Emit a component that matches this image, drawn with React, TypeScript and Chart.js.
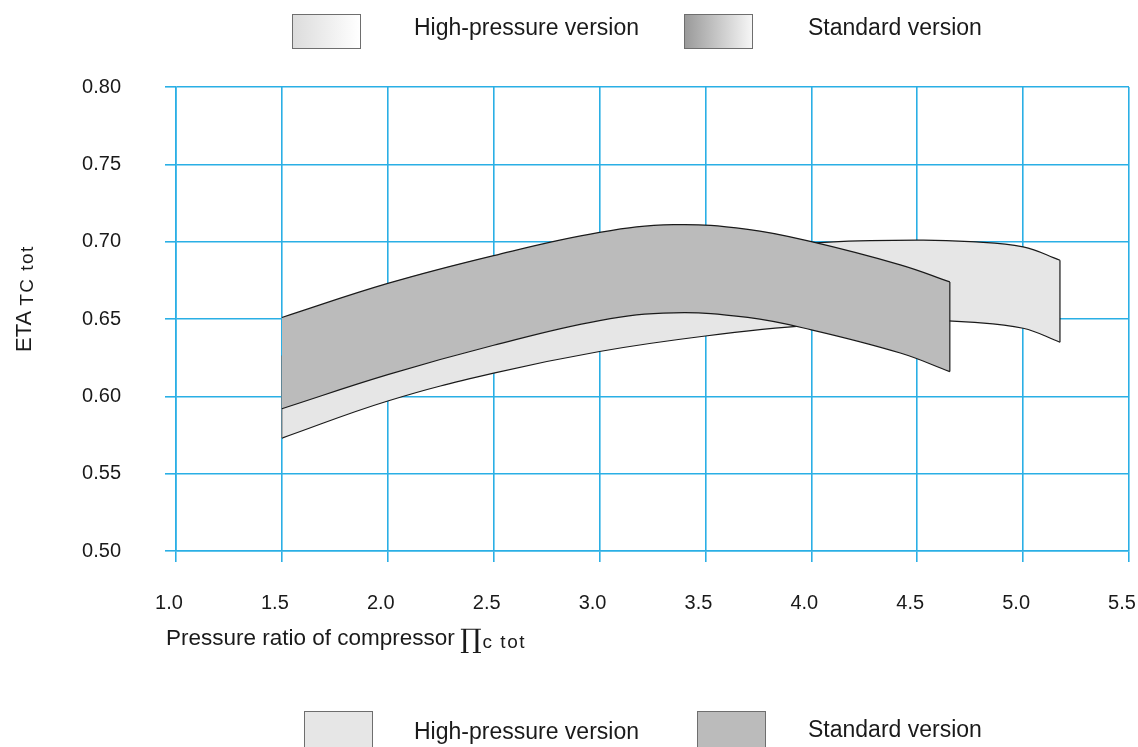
import React, { useEffect, useRef } from "react";
import { Chart, registerables } from "chart.js";

Chart.register(...registerables);

// ---- data ----
const xStd = [1.5, 2.0, 2.5, 3.0, 3.35, 3.7, 4.0, 4.42, 4.654];
const stdUpper = [0.651, 0.673, 0.691, 0.706, 0.711, 0.708, 0.7, 0.685, 0.674];
const stdLower = [0.592, 0.614, 0.633, 0.649, 0.654, 0.651, 0.643, 0.628, 0.616];

const xHp = [1.5, 2.0, 2.5, 3.0, 3.5, 4.0, 4.5, 4.75, 5.0, 5.174];
const hpUpper = [0.626, 0.646, 0.663, 0.678, 0.69, 0.699, 0.701, 0.7, 0.6966, 0.688];
const hpLower = [0.573, 0.597, 0.615, 0.629, 0.639, 0.646, 0.649, 0.648, 0.644, 0.635];

const xTicks = [1.0, 1.5, 2.0, 2.5, 3.0, 3.5, 4.0, 4.5, 5.0, 5.5];
const yTicks = [0.5, 0.55, 0.6, 0.65, 0.7, 0.75, 0.8];

const legendLabels = ["High-pressure version", "Standard version"];
const xTitle = "Pressure ratio of compressor";
const xTitleSymbol = "\u220F";
const xTitleSub = "c tot";
const yTitle = "ETA";
const yTitleSub = "TC tot";

const BLUE = "#2AAFE5";
const STD_FILL = "#bbbbbb";
const HP_FILL = "#e6e6e6";
const LINE = "#1a1a1a";
const TEXT = "#1a1a1a";
const FONT = "'Liberation Sans', Arial, sans-serif";

const pts = (xs: number[], ys: number[]) => xs.map((x, i) => ({ x, y: ys[i] }));
const edge = (xs: number[], up: number[], lo: number[], i: number) => [
  { x: xs[i], y: up[i] },
  { x: xs[i], y: lo[i] },
];

const titlesPlugin = {
  id: "axisTitles",
  afterDraw(chart: any) {
    const { ctx, chartArea } = chart;
    ctx.save();
    ctx.fillStyle = TEXT;
    ctx.textAlign = "left";
    ctx.textBaseline = "alphabetic";
    // x title
    const bx = chartArea.bottom + 94;
    let x = chartArea.left - 10;
    ctx.font = `22.5px ${FONT}`;
    ctx.fillText(xTitle, x, bx);
    x += ctx.measureText(xTitle + " ").width - 1;
    ctx.font = `27px 'DejaVu Serif', serif`;
    ctx.fillText(xTitleSymbol, x, bx + 3);
    x += ctx.measureText(xTitleSymbol).width + 1;
    ctx.font = `19px ${FONT}`;
    (ctx as any).letterSpacing = "1.5px";
    ctx.fillText(xTitleSub, x, bx + 3);
    (ctx as any).letterSpacing = "0px";
    // y title (rotated)
    ctx.translate(31, 352);
    ctx.rotate(-Math.PI / 2);
    ctx.font = `22px ${FONT}`;
    ctx.fillText(yTitle, 0, 0);
    const w = ctx.measureText(yTitle).width;
    ctx.font = `19px ${FONT}`;
    (ctx as any).letterSpacing = "1.5px";
    ctx.fillText(yTitleSub, w + 5, 2);
    ctx.restore();
  },
};

export default function App() {
  const ref = useRef<HTMLCanvasElement>(null);

  useEffect(() => {
    if (!ref.current) return;
    const lastS = xStd.length - 1;
    const lastH = xHp.length - 1;
    const base = {
      pointRadius: 0,
      borderColor: LINE,
      borderWidth: 1.2,
      tension: 0.4,
    };
    const straight = { fill: false, tension: 0 };
    const chart = new Chart(ref.current, {
      type: "line",
      data: {
        datasets: [
          { ...base, ...straight, data: edge(xStd, stdUpper, stdLower, lastS) },
          { ...base, data: pts(xStd, stdLower), fill: false },
          { ...base, data: pts(xStd, stdUpper), fill: 1, backgroundColor: STD_FILL },
          { ...base, ...straight, data: edge(xHp, hpUpper, hpLower, lastH) },
          { ...base, ...straight, data: edge(xHp, hpUpper, hpLower, 0), borderColor: "#777" },
          { ...base, data: pts(xHp, hpLower), fill: false },
          { ...base, data: pts(xHp, hpUpper), fill: 5, backgroundColor: HP_FILL },
        ] as any,
      },
      options: {
        animation: false,
        responsive: true,
        maintainAspectRatio: false,
        layout: { padding: { top: 87, right: 9, left: 0, bottom: 0 } },
        plugins: { legend: { display: false }, tooltip: { enabled: false }, filler: { propagate: false } },
        scales: {
          x: {
            type: "linear",
            min: xTicks[0],
            max: xTicks[xTicks.length - 1],
            z: 1,
            afterFit: (s: any) => {
              s.height = 196;
              s.paddingLeft = 0;
              s.paddingRight = 0;
            },
            afterBuildTicks: (s: any) => {
              s.ticks = xTicks.map((v) => ({ value: v }));
            },
            grid: { color: BLUE, lineWidth: 1.6, tickLength: 11, tickColor: BLUE, tickWidth: 1.6 },
            border: { color: BLUE, width: 1.6 },
            ticks: {
              padding: 29,
              labelOffset: -7,
              color: TEXT,
              font: { family: FONT, size: 20 },
              maxRotation: 0,
              callback: (v: any) => Number(v).toFixed(1),
            },
          },
          y: {
            type: "linear",
            min: yTicks[0],
            max: yTicks[yTicks.length - 1],
            z: 1,
            afterFit: (s: any) => {
              s.width = 176;
              s.paddingTop = 0;
              s.paddingBottom = 0;
            },
            afterBuildTicks: (s: any) => {
              s.ticks = yTicks.map((v) => ({ value: v }));
            },
            grid: { color: BLUE, lineWidth: 1.6, tickLength: 11, tickColor: BLUE, tickWidth: 1.6 },
            border: { color: BLUE, width: 1.6 },
            ticks: {
              padding: 44,
              color: TEXT,
              font: { family: FONT, size: 20 },
              callback: (v: any) => Number(v).toFixed(2),
            },
          },
        },
      },
      plugins: [titlesPlugin],
    });
    return () => chart.destroy();
  }, []);

  const textStyle: React.CSSProperties = {
    position: "absolute",
    fontFamily: FONT,
    fontSize: 23,
    color: TEXT,
    lineHeight: "26px",
    whiteSpace: "nowrap",
  };
  const box = (left: number, top: number, bg: string, h = 35): React.CSSProperties => ({
    position: "absolute",
    left,
    top,
    width: 69,
    height: h,
    background: bg,
    border: "1px solid #6e6e6e",
    boxSizing: "border-box",
  });

  return (
    <div style={{ position: "fixed", left: 0, top: 0, width: 1138, height: 747, background: "#fff", overflow: "hidden" }}>
      <div style={{ position: "absolute", left: 0, top: 0, width: 1138, height: 747 }}>
        <canvas ref={ref} />
      </div>
      {/* top legend */}
      <div style={box(292, 14, "linear-gradient(to right, #dcdcdc, #ffffff)")} />
      <div style={{ ...textStyle, left: 414, top: 14 }}>{legendLabels[0]}</div>
      <div style={box(684, 14, "linear-gradient(to right, #9a9a9a, #f6f6f6)")} />
      <div style={{ ...textStyle, left: 808, top: 14 }}>{legendLabels[1]}</div>
      {/* bottom legend */}
      <div style={box(304, 711, HP_FILL, 42)} />
      <div style={{ ...textStyle, left: 414, top: 718 }}>{legendLabels[0]}</div>
      <div style={box(697, 711, STD_FILL, 42)} />
      <div style={{ ...textStyle, left: 808, top: 716 }}>{legendLabels[1]}</div>
    </div>
  );
}
